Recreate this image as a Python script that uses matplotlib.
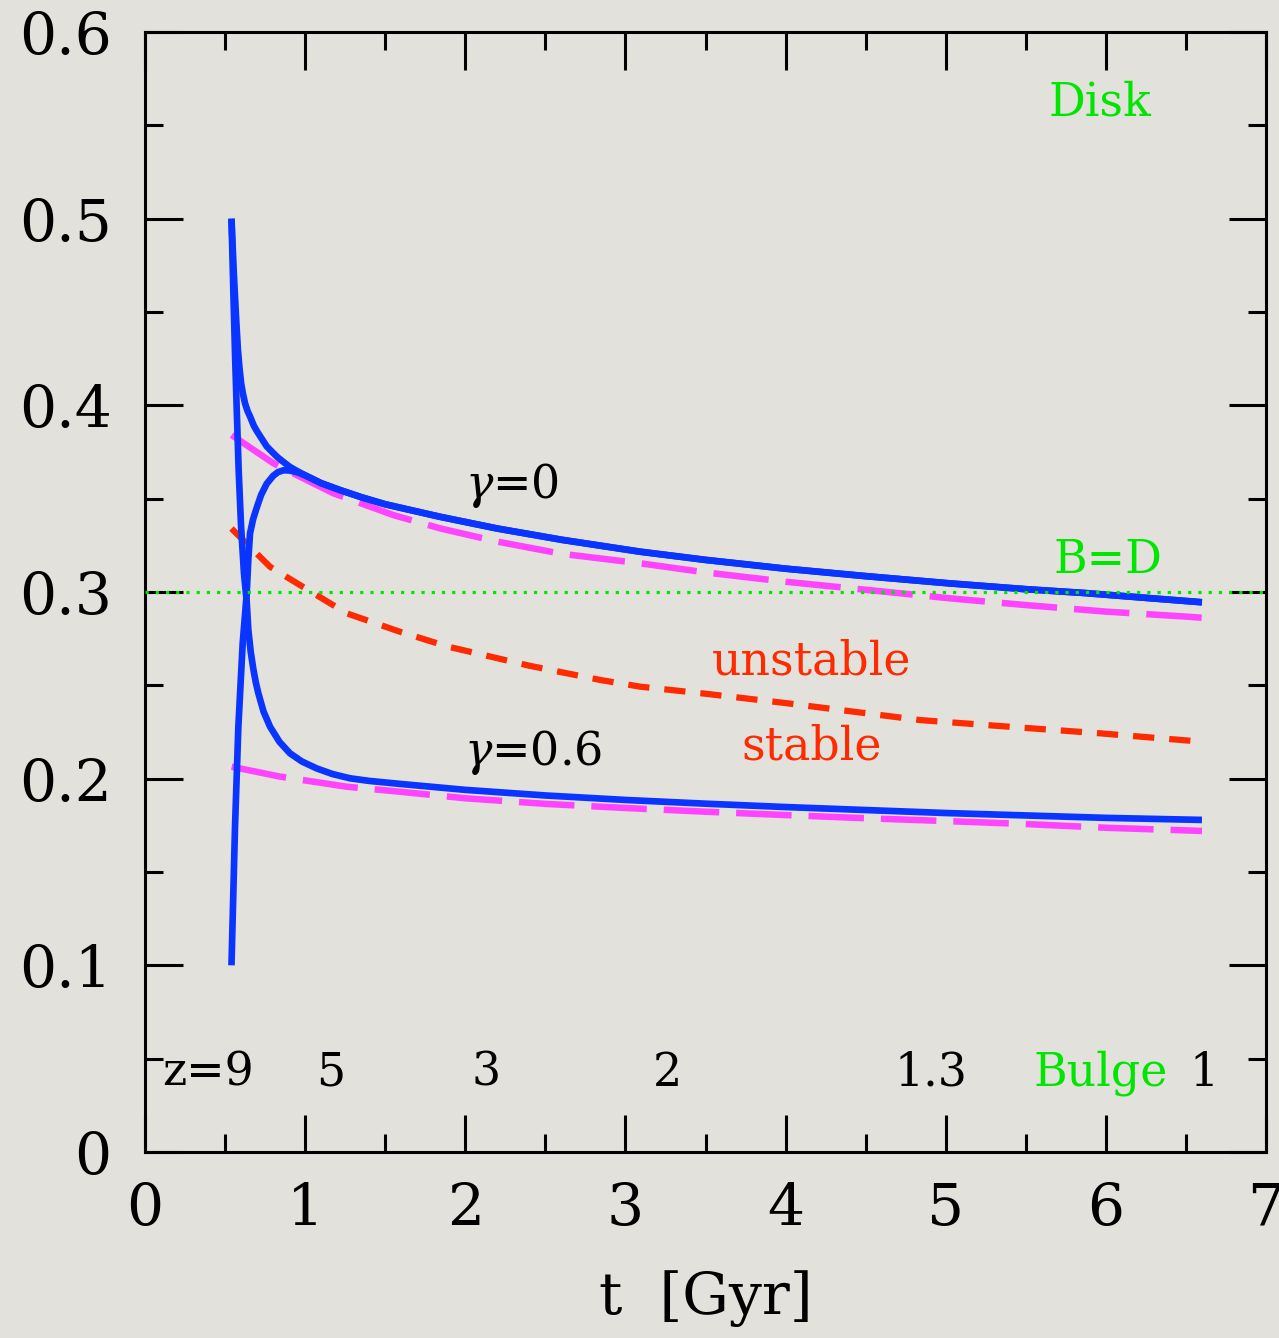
import matplotlib
matplotlib.use("Agg")
from matplotlib import pyplot as plt
from matplotlib.ticker import MultipleLocator

plt.rcParams['font.family'] = ['DejaVu Serif']
plt.rcParams['mathtext.fontset'] = 'dejavuserif'

# gamma=0 track starting from B/T = 0.5
t_g0_top = [0.540, 0.555, 0.570, 0.580, 0.590, 0.600, 0.612, 0.625, 0.640, 0.656, 0.68, 0.70, 0.73,
            0.76, 0.80, 0.83, 0.87, 0.905, 0.95, 1.0, 1.1, 1.218, 1.35, 1.5, 1.842, 2.2, 2.6, 3.091,
            3.5, 4.0, 4.5, 5.027, 5.5, 5.86, 6.2, 6.6]
f_g0_top = [0.500, 0.470, 0.445, 0.430, 0.420, 0.412, 0.406, 0.401, 0.397, 0.394, 0.389, 0.386, 0.382,
            0.378, 0.3745, 0.372, 0.3693, 0.367, 0.3648, 0.3625, 0.3583, 0.3546, 0.3508, 0.347,
            0.3403, 0.334, 0.328, 0.3216, 0.3172, 0.3125, 0.3085, 0.3046, 0.3015, 0.2995, 0.2972,
            0.2945]

# gamma=0 track starting from B/T = 0.1
t_g0_bot = [0.540, 0.562, 0.583, 0.610, 0.635, 0.645, 0.656, 0.675, 0.697, 0.725, 0.760, 0.80, 0.83,
            0.864, 0.90, 0.95, 1.0, 1.1, 1.218, 1.35, 1.5, 1.842, 2.2, 2.6, 3.091, 3.5, 4.0, 4.5,
            5.027, 5.5, 5.86, 6.2, 6.6]
f_g0_bot = [0.100, 0.174, 0.228, 0.2725, 0.299, 0.317, 0.3315, 0.339, 0.345, 0.352, 0.358, 0.3622,
            0.3642, 0.3652, 0.3651, 0.3642, 0.3625, 0.3583, 0.3546, 0.3508, 0.347, 0.3403, 0.334,
            0.328, 0.3216, 0.3172, 0.3125, 0.3085, 0.3046, 0.3015, 0.2995, 0.2972, 0.2945]

# gamma=0.6 track starting from B/T = 0.5
t_g06 = [0.540, 0.552, 0.563, 0.572, 0.585, 0.600, 0.618, 0.635, 0.645, 0.660, 0.676, 0.692, 0.708,
         0.74, 0.781, 0.84, 0.905, 0.98, 1.072, 1.17, 1.28, 1.4, 1.592, 2.0, 2.5, 3.0, 3.5, 4.0, 4.5,
         5.0, 5.5, 6.0, 6.6]
f_g06 = [0.500, 0.460, 0.425, 0.400, 0.365, 0.335, 0.310, 0.295, 0.280, 0.268, 0.259, 0.2515, 0.2457,
         0.236, 0.2278, 0.2197, 0.2136, 0.2092, 0.2055, 0.2025, 0.2002, 0.1988, 0.1972, 0.194,
         0.191, 0.1886, 0.1866, 0.1848, 0.1832, 0.1816, 0.1803, 0.179, 0.1779]

# asymptotic (equilibrium) values
t_eq0 = [0.541, 0.801, 1.0, 1.176, 1.551, 1.842, 2.2, 2.6, 3.091, 3.5, 4.0, 4.5, 5.027, 5.5, 6.0, 6.505, 6.6]
f_eq0 = [0.3841, 0.369, 0.3604, 0.3529, 0.3412, 0.3341, 0.327, 0.3205, 0.3154, 0.3105, 0.3055, 0.3012,
         0.2966, 0.293, 0.2895, 0.2868, 0.2862]
t_eq06 = [0.541, 0.843, 1.259, 1.592, 2.0, 2.5, 3.0, 3.5, 4.0, 4.5, 5.0, 5.5, 6.0, 6.6]
f_eq06 = [0.2064, 0.2011, 0.1957, 0.193, 0.1895, 0.1865, 0.1843, 0.1823, 0.1805, 0.1788, 0.1773, 0.1757,
          0.1737, 0.172]

# stability boundary
t_crit = [0.54, 0.781, 0.968, 1.259, 1.592, 1.894, 2.4, 2.841, 3.091, 3.5, 3.84, 4.0, 4.839, 5.4, 5.963, 6.6]
f_crit = [0.334, 0.3135, 0.3037, 0.2886, 0.2787, 0.2707, 0.2605, 0.2529, 0.2493, 0.2455, 0.2421, 0.2405,
          0.2314, 0.2278, 0.2243, 0.2198]

# redshift labels along the bottom
z_pos = [0.393, 1.16, 2.13, 3.26, 4.91, 6.61]
z_text = ["z=9", "5", "3", "2", "1.3", "1"]

bg = "#e2e1dc"
blue = "#0a34ff"
magenta = "#ff44ff"
red = "#ff2a00"
green = "#00e600"

fig = plt.figure(figsize=(12.79, 13.38), dpi=100, facecolor=bg)
ax = fig.add_axes([145 / 1279, 1 - 1152 / 1338, 1121 / 1279, 1120 / 1338])
ax.set_facecolor(bg)

ax.plot(t_eq0, f_eq0, color=magenta, lw=4.7, dashes=(8.5, 2.6))
ax.plot(t_eq06, f_eq06, color=magenta, lw=4.7, dashes=(8.5, 2.6))
ax.plot(t_crit, f_crit, color=red, lw=4.5, dashes=(3.4, 2.4))
ax.plot(t_g0_top, f_g0_top, color=blue, lw=4.8, solid_capstyle='butt')
ax.plot(t_g0_bot, f_g0_bot, color=blue, lw=4.8, solid_capstyle='butt')
ax.plot(t_g06, f_g06, color=blue, lw=4.8, solid_capstyle='butt')
ax.axhline(0.3, color=green, lw=2.3, dashes=(1, 2.2), zorder=5)

ax.set_xlim(0, 7)
ax.set_ylim(0, 0.6)
ax.xaxis.set_major_locator(MultipleLocator(1))
ax.xaxis.set_minor_locator(MultipleLocator(0.5))
ax.yaxis.set_major_locator(MultipleLocator(0.1))
ax.yaxis.set_minor_locator(MultipleLocator(0.05))
ax.xaxis.set_major_formatter(plt.FuncFormatter(lambda v, p: "%g" % v))
ax.yaxis.set_major_formatter(plt.FuncFormatter(lambda v, p: "%g" % round(v, 2)))
ax.tick_params(which='both', direction='in', top=True, right=True, width=2.2, color='black')
ax.tick_params(which='major', length=27, labelsize=42, pad=24)
ax.tick_params(axis='x', which='major', pad=21)
ax.tick_params(which='minor', length=13)
for s in ax.spines.values():
    s.set_linewidth(2.2)

ax.set_xlabel("t  [Gyr]", fontsize=42, labelpad=24)

fs = 33
ax.text(5.965, 0.562, "Disk", color=green, fontsize=fs, ha='center', va='center')
ax.text(6.01, 0.317, "B=D", color=green, fontsize=fs, ha='center', va='center')
ax.text(5.965, 0.0423, "Bulge", color=green, fontsize=fs, ha='center', va='center')
for xp, s in zip(z_pos, z_text):
    ax.text(xp, 0.0423, s, color='black', fontsize=fs, ha='center', va='center')
ax.text(2.29, 0.357, r"$\gamma$=0", fontsize=fs, ha='center', va='center')
ax.text(2.42, 0.214, r"$\gamma$=0.6", fontsize=fs, ha='center', va='center')
ax.text(4.165, 0.2625, "unstable", color=red, fontsize=fs, ha='center', va='center')
ax.text(4.165, 0.217, "stable", color=red, fontsize=fs, ha='center', va='center')

fig.savefig("out.png", dpi=100, facecolor=bg)
